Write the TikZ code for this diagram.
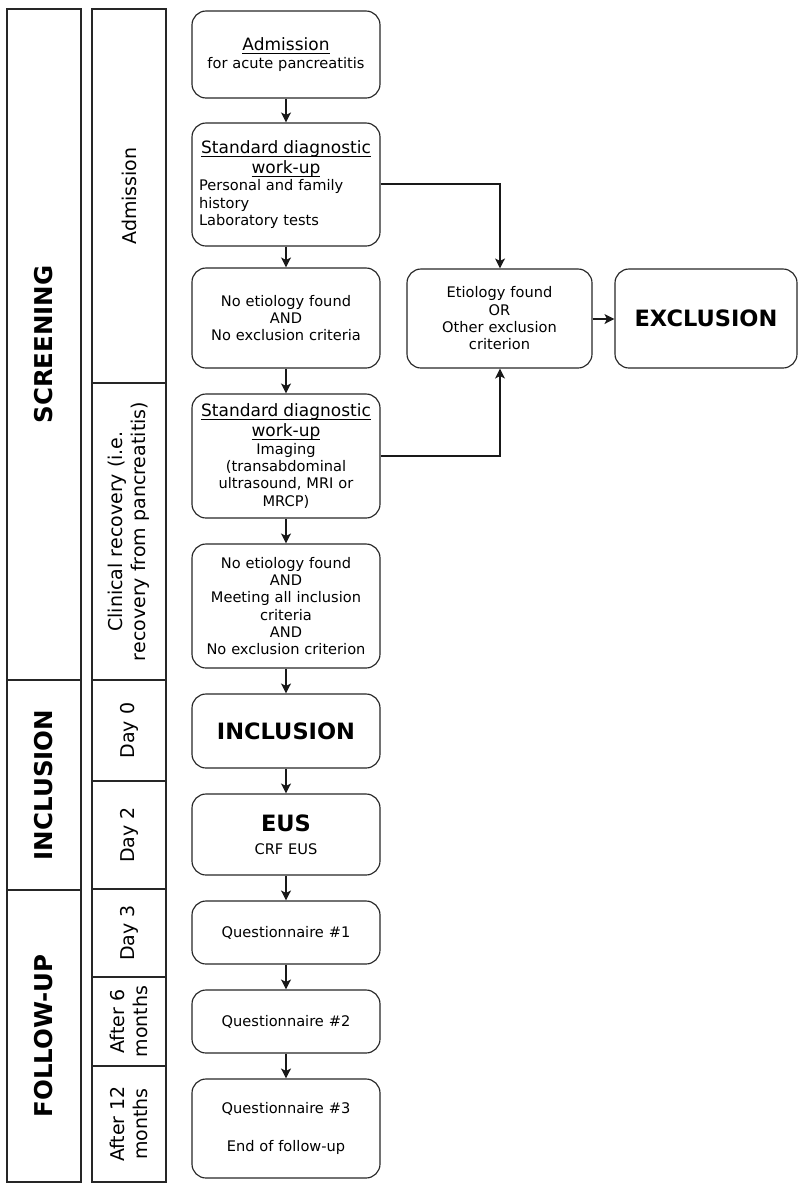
\documentclass[tikz,border=0pt]{standalone}
\usepackage{fontspec}
\setmainfont{DejaVu Sans}
\usetikzlibrary{arrows.meta}
\newcommand\myBody{\fontsize{14.6}{17.3}\selectfont}
\newcommand\myHead{\fontsize{17}{20}\selectfont}
\newcommand\myBig{\fontsize{22.5}{26}\selectfont\bfseries}
\newcommand\myPhase{\fontsize{24.5}{28}\selectfont\bfseries}
\newcommand\myLabel{\fontsize{19}{23}\selectfont}
\newcommand\myUl[1]{\leavevmode\setbox0\hbox{#1}\rlap{\rule[-3pt]{\wd0}{0.8pt}}\box0}
\tikzset{
  flow/.style={draw=black!85, line width=1.15pt, rounded corners=14pt,
    minimum width=188pt, text width=174pt, inner xsep=7pt, inner ysep=0pt,
    align=center, font=\myBody},
  side/.style={draw=black!85, line width=1.15pt, rounded corners=14pt,
    minimum height=99pt, inner xsep=7pt, inner ysep=0pt,
    align=center, font=\myBody},
  cell/.style={draw=black!85, line width=1.15pt},
  phase/.style={rotate=90, font=\myPhase, align=center, inner sep=0pt},
  period/.style={rotate=90, font=\myLabel, align=center, inner sep=0pt},
  arr/.style={draw=black!90, line width=1.15pt, -{Stealth[length=10pt,width=10pt,inset=2.5pt]}},
}
\begin{document}
\begin{tikzpicture}[x=1pt,y=-1pt]
\useasboundingbox (0,0) rectangle (799,1184);
% phase column
\draw[cell] (7,9) rectangle (81,680);
\draw[cell] (7,680) rectangle (81,890);
\draw[cell] (7,890) rectangle (81,1182);
\node[phase] (pscr) at (44,344.5) {SCREENING};
\node[phase] (pinc) at (44,785) {INCLUSION};
\node[phase] (pfol) at (44,1036) {FOLLOW-UP};
% period column
\draw[cell] (92,9) rectangle (166,383);
\draw[cell] (92,383) rectangle (166,680);
\draw[cell] (92,680) rectangle (166,781);
\draw[cell] (92,781) rectangle (166,889);
\draw[cell] (92,889) rectangle (166,977);
\draw[cell] (92,977) rectangle (166,1066);
\draw[cell] (92,1066) rectangle (166,1182);
\node[period] (tadm) at (129,196) {Admission};
\node[period] (tcli) at (129,531.5) {Clinical recovery (i.e.\\recovery from pancreatitis)};
\node[period] (td0) at (129,730.5) {Day 0};
\node[period] (td2) at (129,835) {Day 2};
\node[period] (td3) at (129,933) {Day 3};
\node[period] (t6m) at (129,1021.5) {After 6\\months};
\node[period] (t12m) at (129,1124) {After 12\\months};
% main flow
\node[flow, minimum height=87pt] (a1) at (286,54.5)
  {{\myHead\myUl{Admission}\par}for acute pancreatitis};
\node[flow, minimum height=123pt, align=left] (a2) at (286,184.5)
  {{\centering\myHead\myUl{Standard diagnostic}\\\myUl{work-up}\par}Personal and family\\history\\Laboratory tests};
\node[flow, minimum height=100pt] (a3) at (286,318)
  {No etiology found\\AND\\No exclusion criteria};
\node[flow, minimum height=124pt] (a4) at (286,456)
  {{\myHead\myUl{Standard diagnostic}\\\myUl{work-up}\par}Imaging\\(transabdominal\\ultrasound, MRI or\\MRCP)};
\node[flow, minimum height=124pt] (a5) at (286,606)
  {No etiology found\\AND\\Meeting all inclusion\\criteria\\AND\\No exclusion criterion};
\node[flow, minimum height=74pt] (a6) at (286,731)
  {{\myBig INCLUSION}};
\node[flow, minimum height=81pt] (a7) at (286,834.5)
  {{\myBig EUS}\\[6pt]CRF EUS};
\node[flow, minimum height=63pt] (a8) at (286,932.5) {Questionnaire \#1};
\node[flow, minimum height=63pt] (a9) at (286,1021.5) {Questionnaire \#2};
\node[flow, minimum height=99pt] (a10) at (286,1128.5)
  {Questionnaire \#3\\[21.5pt]End of follow-up};
% side boxes
\node[side, minimum width=185pt, text width=171pt] (e1) at (499.5,318.5)
  {Etiology found\\OR\\Other exclusion\\criterion};
\node[side, minimum width=182pt, text width=168pt] (ex) at (706,318.5)
  {{\myBig EXCLUSION}};
\coordinate (c1) at (500,184);
\coordinate (c2) at (500,456);
% connectors
\draw[arr] (a1) -- (a2);
\draw[arr] (a2) -- (a3);
\draw[arr] (a3) -- (a4);
\draw[arr] (a4) -- (a5);
\draw[arr] (a5) -- (a6);
\draw[arr] (a6) -- (a7);
\draw[arr] (a7) -- (a8);
\draw[arr] (a8) -- (a9);
\draw[arr] (a9) -- (a10);
\draw[arr] (a2.east |- c1) -- (c1) -- (e1.north -| c1);
\draw[arr] (a4.east |- c2) -- (c2) -- (e1.south -| c2);
\draw[arr] (e1.east |- 0,319) -- (ex.west |- 0,319);
\end{tikzpicture}
\end{document}
